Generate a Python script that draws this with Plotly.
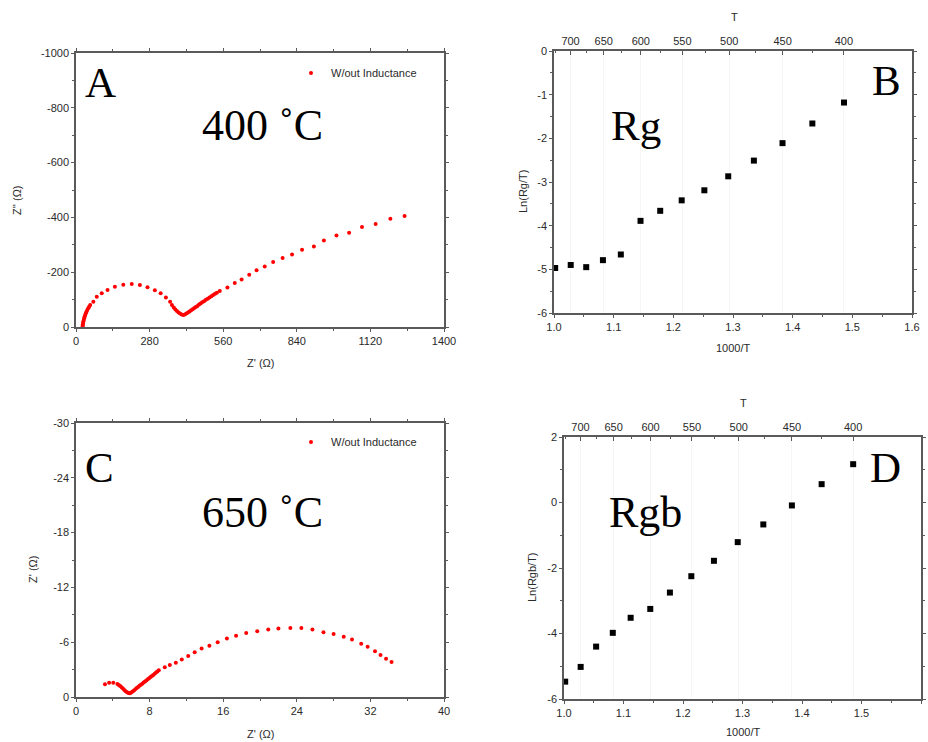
import plotly.graph_objects as go

##############################################
# Data
##############################################

# A: impedance at 400 C
a_zre = [25, 25.5, 26, 27, 28, 29.5, 31, 33, 35, 37.5, 40, 43, 46.5, 50, 54,
         66, 79, 98, 120, 148, 180, 212, 243, 272, 300, 322, 342, 358,
         365, 372, 378, 384, 390, 396, 402, 408, 414, 420, 426, 432, 438, 444,
         450, 456, 462, 468, 474, 480, 487, 494, 501, 508, 515, 522, 529, 536,
         547, 576, 604, 630, 659, 687, 718, 750, 786, 822, 860, 905, 943, 991,
         1039, 1088, 1140, 1196, 1250]
a_zim = [0, -5, -10, -15, -20, -26, -32, -38, -44, -50, -56, -62, -68, -74, -80,
         -92, -110, -123, -135, -147, -154, -157, -153, -145, -134, -123, -108, -92,
         -80, -71, -64, -58, -53, -49, -46, -44, -46, -49, -53, -57, -61, -65,
         -69, -73, -77, -82, -86, -90, -94, -99, -103, -108, -112, -117, -121, -125,
         -131, -144, -161, -173, -191, -207, -221, -237, -252, -265, -282, -294, -316, -334,
         -344, -365, -376, -395, -405]

# C: impedance at 650 C
c_zre = [3.15, 3.6, 4.05, 4.5, 4.65, 4.8, 4.95, 5.1, 5.25, 5.4, 5.55, 5.7, 5.85,
         6.0, 6.15, 6.3, 6.45, 6.6, 6.75, 6.9, 7.05, 7.2, 7.35, 7.5, 7.65, 7.8,
         7.95, 8.1, 8.25, 8.4, 8.55, 8.7, 8.85, 9.0, 9.65, 10.2, 10.85, 11.5,
         12.2, 12.9, 13.65, 14.5, 15.4, 16.4, 17.4, 18.5, 19.7, 20.9, 22.0, 23.3,
         24.5, 25.7, 26.9, 28.0, 29.1, 30.0, 31.0, 31.7, 32.5, 33.1, 33.7, 34.3]
c_zim = [-1.39, -1.57, -1.57, -1.42, -1.32, -1.2, -1.06, -0.92, -0.78, -0.64, -0.52, -0.43, -0.40,
         -0.48, -0.6, -0.72, -0.85, -0.98, -1.1, -1.22, -1.34, -1.46, -1.58, -1.7, -1.82, -1.94,
         -2.06, -2.18, -2.3, -2.42, -2.55, -2.67, -2.8, -2.92, -3.25, -3.5, -3.76, -4.1,
         -4.5, -4.9, -5.3, -5.6, -6.0, -6.4, -6.7, -7.0, -7.2, -7.4, -7.5, -7.55,
         -7.55, -7.4, -7.1, -6.9, -6.6, -6.3, -5.84, -5.5, -5.0, -4.6, -4.2, -3.83]

# B / D: Arrhenius plots
inv_t = [1.002, 1.028, 1.054, 1.082, 1.112, 1.145, 1.178, 1.214, 1.252, 1.292,
         1.335, 1.383, 1.433, 1.486]
ln_rg = [-4.97, -4.90, -4.95, -4.79, -4.66, -3.89, -3.66, -3.42, -3.19, -2.87,
         -2.51, -2.11, -1.66, -1.18]
ln_rgb = [-5.47, -5.02, -4.40, -3.98, -3.52, -3.25, -2.75, -2.25, -1.78, -1.21,
          -0.67, -0.09, 0.56, 1.17]

# tick labels
a_xticks = [0, 280, 560, 840, 1120, 1400]
a_yticks = [0, -200, -400, -600, -800, -1000]
c_xticks = [0, 8, 16, 24, 32, 40]
c_yticks = [0, -6, -12, -18, -24, -30]
b_yticks = [0, -1, -2, -3, -4, -5, -6]
d_yticks = [2, 0, -2, -4, -6]
inv_ticks = [1.0, 1.1, 1.2, 1.3, 1.4, 1.5, 1.6]
t_labels = [700, 650, 600, 550, 500, 450, 400]
t_minor = [725, 675, 625, 575, 525, 475, 425]

##############################################
# Helpers
##############################################

W, H = 928, 742


def px(x):
    return x / W


def py(y):
    return 1 - y / H


def lab(v):
    return str(v)


SANS = "Liberation Sans, Arial, sans-serif"
SERIF = "Liberation Serif, Times New Roman, serif"
AX = "#5a5a5a"
TXT = "#2a2a2a"

base_axis = dict(
    showline=True, linecolor=AX, linewidth=1.5, mirror="ticks",
    ticks="outside", ticklen=3, tickwidth=1, tickcolor=AX,
    tickfont=dict(family=SANS, size=11, color=TXT),
    showgrid=False, zeroline=False, automargin=False,
)

##############################################
# Figure
##############################################

fig = go.Figure()

fig.add_trace(go.Scatter(
    x=a_zre, y=a_zim, mode="markers", name="W/out Inductance",
    marker=dict(color="red", size=4), xaxis="x", yaxis="y", legend="legend"))

fig.add_trace(go.Scatter(
    x=inv_t, y=ln_rg, mode="markers", showlegend=False,
    marker=dict(color="black", size=6, symbol="square"), xaxis="x2", yaxis="y2"))
fig.add_trace(go.Scatter(
    x=inv_t, y=ln_rg, mode="markers", showlegend=False, hoverinfo="skip",
    marker=dict(opacity=0), xaxis="x5", yaxis="y2"))

fig.add_trace(go.Scatter(
    x=c_zre, y=c_zim, mode="markers", name="W/out Inductance",
    marker=dict(color="red", size=4), xaxis="x3", yaxis="y3", legend="legend2"))

fig.add_trace(go.Scatter(
    x=inv_t, y=ln_rgb, mode="markers", showlegend=False,
    marker=dict(color="black", size=6, symbol="square"), xaxis="x4", yaxis="y4"))
fig.add_trace(go.Scatter(
    x=inv_t, y=ln_rgb, mode="markers", showlegend=False, hoverinfo="skip",
    marker=dict(opacity=0), xaxis="x6", yaxis="y4"))

top_vals = [1000 / (t + 273) for t in t_labels]
top_minor = [1000 / (t + 273) for t in t_minor]

fig.update_layout(
    template="none",
    width=W, height=H,
    margin=dict(l=0, r=0, t=0, b=0),
    paper_bgcolor="white", plot_bgcolor="white",
    xaxis=dict(base_axis, domain=[px(76), px(444)], anchor="y", range=[0, 1400],
               tickvals=a_xticks, ticktext=[lab(v) for v in a_xticks],
               minor=dict(ticks="outside", ticklen=2, tickcolor=AX, dtick=140)),
    yaxis=dict(base_axis, domain=[py(327), py(53)], anchor="x", range=[0, -1000],
               tickvals=a_yticks, ticktext=[lab(v) for v in a_yticks],
               minor=dict(ticks="outside", ticklen=2, tickcolor=AX, dtick=100)),
    xaxis2=dict(base_axis, mirror=True, domain=[px(554), px(912)], anchor="y2",
                range=[1.0, 1.6], tickvals=inv_ticks,
                ticktext=[f"{v:.1f}" for v in inv_ticks],
                minor=dict(ticks="outside", ticklen=2, tickcolor=AX, dtick=0.05)),
    yaxis2=dict(base_axis, domain=[py(313), py(51)], anchor="x2", range=[-6, 0],
                tickvals=b_yticks, ticktext=[lab(v) for v in b_yticks],
                minor=dict(ticks="outside", ticklen=2, tickcolor=AX, dtick=0.5)),
    xaxis5=dict(base_axis, mirror=False, overlaying="x2", side="top", anchor="y2",
                range=[1.0, 1.6], tickvals=top_vals, ticktext=[str(t) for t in t_labels],
                ticks="inside", ticklen=4, showgrid=True, gridcolor="#f6f6f6",
                minor=dict(ticks="inside", ticklen=2, tickcolor=AX, tickvals=top_minor)),
    xaxis3=dict(base_axis, domain=[px(76), px(444)], anchor="y3", range=[0, 40],
                tickvals=c_xticks, ticktext=[lab(v) for v in c_xticks],
                minor=dict(ticks="outside", ticklen=2, tickcolor=AX, dtick=4)),
    yaxis3=dict(base_axis, domain=[py(697), py(423)], anchor="x3", range=[0, -30],
                tickvals=c_yticks, ticktext=[lab(v) for v in c_yticks],
                minor=dict(ticks="outside", ticklen=2, tickcolor=AX, dtick=3)),
    xaxis4=dict(base_axis, mirror=True, domain=[px(564), px(921)], anchor="y4",
                range=[1.0, 1.6], tickvals=inv_ticks,
                ticktext=[f"{v:.1f}" for v in inv_ticks],
                minor=dict(ticks="outside", ticklen=2, tickcolor=AX, dtick=0.05)),
    yaxis4=dict(base_axis, domain=[py(699), py(437)], anchor="x4", range=[-6, 2],
                tickvals=d_yticks, ticktext=[lab(v) for v in d_yticks],
                minor=dict(ticks="outside", ticklen=2, tickcolor=AX, dtick=1)),
    xaxis6=dict(base_axis, mirror=False, overlaying="x4", side="top", anchor="y4",
                range=[1.0, 1.6], tickvals=top_vals, ticktext=[str(t) for t in t_labels],
                ticks="inside", ticklen=4, showgrid=True, gridcolor="#f6f6f6",
                minor=dict(ticks="inside", ticklen=2, tickcolor=AX, tickvals=top_minor)),
    legend=dict(x=px(291), y=py(73), xanchor="left", yanchor="middle",
                bgcolor="rgba(0,0,0,0)", font=dict(family=SANS, size=11, color=TXT)),
    legend2=dict(x=px(291), y=py(442), xanchor="left", yanchor="middle",
                 bgcolor="rgba(0,0,0,0)", font=dict(family=SANS, size=11, color=TXT)),
)

##############################################
# Text
##############################################

texts = [
    # (text, x, y, size, family, angle)
    ("A", 100, 82, 43, SERIF, 0),
    ("400 \u02daC", 262, 125, 44, SERIF, 0),
    ("B", 886, 81, 43, SERIF, 0),
    ("Rg", 636, 126, 43, SERIF, 0),
    ("C", 99, 467, 43, SERIF, 0),
    ("650 \u02daC", 262, 512, 44, SERIF, 0),
    ("D", 885, 467, 43, SERIF, 0),
    ("Rgb", 645, 512, 44, SERIF, 0),
    ("Z' (\u03a9)", 260, 363, 11, SANS, 0),
    ("Z'' (\u03a9)", 17, 200, 11, SANS, -90),
    ("Z' (\u03a9)", 260, 734, 11, SANS, 0),
    ("Z' (\u03a9)", 33, 570, 11, SANS, -90),
    ("1000/T", 733, 348, 11, SANS, 0),
    ("T", 734, 17, 11, SANS, 0),
    ("Ln(Rg/T)", 523, 192, 11, SANS, -90),
    ("1000/T", 743, 732, 11, SANS, 0),
    ("T", 743, 403, 11, SANS, 0),
    ("Ln(Rgb/T)", 532, 577, 11, SANS, -90),
]

for t, x, y, s, fam, ang in texts:
    fig.add_annotation(
        text=t, x=px(x), y=py(y), xref="paper", yref="paper",
        xanchor="center", yanchor="middle", showarrow=False, textangle=ang,
        font=dict(family=fam, size=s, color="black" if fam == SERIF else TXT))

# page body has a default 8px margin; drop it so the figure fills the window
fig.write_html("out.html", config={"displayModeBar": False},
               post_script="document.body.style.margin = '0';")
